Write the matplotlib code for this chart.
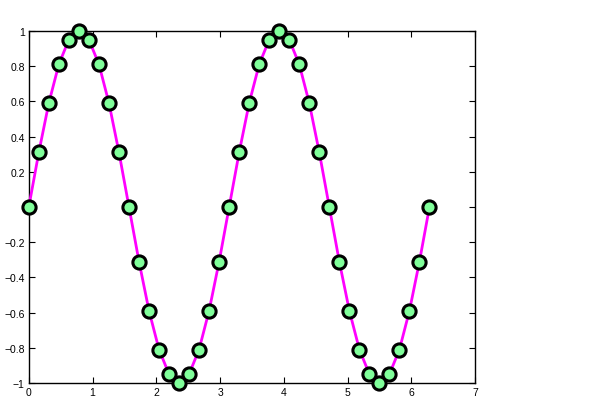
import matplotlib
matplotlib.use("Agg")
import matplotlib.pyplot as plt

plt.rcParams['font.family'] = ['Liberation Sans', 'DejaVu Sans']

x = [0.0, 0.157, 0.314, 0.471, 0.628, 0.785, 0.942, 1.100, 1.257, 1.414,
     1.571, 1.728, 1.885, 2.042, 2.199, 2.356, 2.513, 2.670, 2.827, 2.985,
     3.142, 3.299, 3.456, 3.613, 3.770, 3.927, 4.084, 4.241, 4.398, 4.555,
     4.712, 4.869, 5.027, 5.184, 5.341, 5.498, 5.655, 5.812, 5.969, 6.126,
     6.283]
y = [0.0, 0.31, 0.59, 0.81, 0.95, 1.0, 0.95, 0.81, 0.59, 0.31,
     0.0, -0.31, -0.59, -0.81, -0.95, -1.0, -0.95, -0.81, -0.59, -0.31,
     0.0, 0.31, 0.59, 0.81, 0.95, 1.0, 0.95, 0.81, 0.59, 0.31,
     0.0, -0.31, -0.59, -0.81, -0.95, -1.0, -0.95, -0.81, -0.59, -0.31,
     0.0]
xticks = [0, 1, 2, 3, 4, 5, 6, 7]
yticks = [-1, -0.8, -0.6, -0.4, -0.2, 0, 0.2, 0.4, 0.6, 0.8, 1]
yticklabels = ['\u22121', '\u22120.8', '\u22120.6', '\u22120.4', '\u22120.2', '',
               '0.2', '0.4', '0.6', '0.8', '1']

fig = plt.figure(figsize=(6.0, 4.14), dpi=100)
ax = fig.add_axes([0.048, 0.0725, 0.744, 0.8505])
ax.plot(x, y, color='#ff00ff', linewidth=2.0, marker='o', markersize=9.5,
        markerfacecolor='#80ff9a', markeredgecolor='black', markeredgewidth=2.2,
        clip_on=False, zorder=3)
ax.set_xlim(0, 7)
ax.set_ylim(-1, 1)
ax.set_xticks(xticks)
ax.set_xticklabels([str(t) for t in xticks])
ax.set_yticks(yticks)
ax.set_yticklabels(yticklabels)
ax.tick_params(direction='in', top=True, right=True, labelsize=7.5, length=4, width=0.8, pad=3)
for s in ax.spines.values():
    s.set_linewidth(1.0)
fig.savefig('out.png', dpi=100)
